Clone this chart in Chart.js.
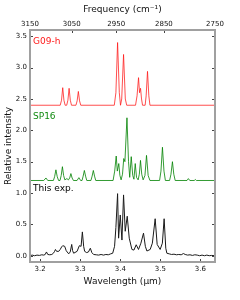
<!DOCTYPE html>
<html>
<head>
<meta charset="utf-8">
<script src="https://cdn.jsdelivr.net/npm/chart.js@4/dist/chart.umd.min.js"></script>
<style>
html,body{margin:0;padding:0;background:#fff;}
#wrap{width:240px;height:300px;position:relative;}
</style>
</head>
<body>
<div id="wrap"><canvas id="c" width="240" height="300"></canvas></div>
<script>
// ---- tick labels ----
const freqTicks = [3150, 3050, 2950, 2850, 2750];          // top axis (cm^-1)
const wlTicks = [3.2, 3.3, 3.4, 3.5, 3.6];                  // bottom axis (µm)
const yTicks = [0.0, 0.5, 1.0, 1.5, 2.0, 2.5, 3.0, 3.5];

// ---- G09-h (offset 2.4) ----
const g09X = [3.1746,3.2500,3.2533,3.2563,3.2593,3.2623,3.2662,3.2692,3.2722,3.2752,3.2782,
  3.2893,3.2923,3.2953,3.2983,3.3013,3.3850,3.3890,3.3932,3.3975,3.4005,3.4035,3.4081,3.4125,3.4160,
  3.4380,3.4418,3.4455,3.4480,3.4505,3.4530,3.4555,3.4620,3.4645,3.4679,3.4712,3.4740,3.6364];
const g09Y = [2.40,2.40,2.48,2.68,2.48,2.40,2.40,2.48,2.67,2.48,2.40,
  2.40,2.47,2.62,2.47,2.40,2.40,2.60,3.40,2.60,2.40,2.50,3.21,2.50,2.40,
  2.40,2.55,2.84,2.60,2.67,2.50,2.40,2.40,2.55,2.94,2.55,2.40,2.40];

// ---- SP16 (offset 1.2) ----
const sp16X = [3.1746,3.2090,3.2144,3.2190,3.2330,3.2360,3.2393,3.2426,3.2460,
  3.2495,3.2525,3.2555,3.2585,3.2615,3.2667,3.2705,3.2737,3.2767,3.2797,3.2830,
  3.2920,3.2966,3.3010,3.3045,3.3073,3.3103,3.3133,3.3163,
  3.3267,3.3297,3.3327,3.3357,3.3387,
  3.3820,3.3860,3.3898,3.3925,3.3962,3.3990,3.4020,3.4055,3.4086,3.4115,3.4166,3.4205,3.4235,
  3.4273,3.4310,3.4340,3.4373,3.4405,3.4445,3.4475,3.4504,3.4535,3.4570,3.4615,3.4654,3.4695,3.4740,
  3.4980,3.5015,3.5052,3.5090,3.5125,3.5230,3.5265,3.5301,3.5335,3.5370,
  3.5665,3.5699,3.5735,3.5845,3.5873,3.5900,3.6364];
const sp16Y = [1.20,1.20,1.24,1.20,1.20,1.26,1.37,1.26,1.20,
  1.20,1.28,1.42,1.28,1.21,1.23,1.21,1.24,1.31,1.24,1.20,
  1.20,1.245,1.20,1.20,1.27,1.36,1.27,1.20,
  1.20,1.27,1.36,1.27,1.20,
  1.20,1.35,1.59,1.35,1.47,1.28,1.21,1.30,1.55,1.50,2.20,1.50,1.25,
  1.58,1.28,1.22,1.47,1.25,1.21,1.30,1.52,1.30,1.21,1.28,1.60,1.28,1.20,
  1.20,1.35,1.73,1.35,1.20,1.20,1.30,1.50,1.30,1.20,
  1.20,1.23,1.20,1.20,1.215,1.20,1.20];

// ---- This exp. ----
const expX = [3.1746,3.1800,3.1860,3.1920,3.1980,3.2040,3.2090,3.2125,3.2157,3.2190,3.2240,3.2290,
  3.2330,3.2360,3.2381,3.2410,3.2463,3.2500,3.2535,3.2563,3.2612,3.2650,3.2712,3.2750,3.2787,3.2810,
  3.2836,3.2921,3.2978,3.3021,3.3053,3.3085,3.3110,3.3160,3.3205,3.3252,3.3290,3.3334,3.3400,3.3460,
  3.3520,3.3580,3.3640,3.3700,3.3760,3.3810,3.3857,3.3890,3.3932,3.3957,3.3999,3.4041,3.4081,3.4123,
  3.4173,3.4223,3.4290,3.4340,3.4397,3.4454,3.4514,3.4579,3.4625,3.4664,3.4746,3.4800,3.4870,3.4920,
  3.4995,3.5050,3.5094,3.5135,3.5162,3.5220,3.5280,3.5340,3.5400,3.5460,3.5520,3.5575,3.5620,3.5680,
  3.5740,3.5800,3.5860,3.5920,3.5980,3.6040,3.6100,3.6160,3.6220,3.6280,3.6364];
const expY = [0.00,0.01,0.00,0.01,0.005,0.015,0.01,0.02,0.06,0.02,0.015,0.02,
  0.04,0.07,0.10,0.07,0.07,0.10,0.14,0.16,0.15,0.08,0.03,0.06,0.18,0.08,
  0.04,0.07,0.16,0.15,0.38,0.15,0.07,0.05,0.06,0.12,0.05,0.02,0.015,0.01,
  0.02,0.01,0.02,0.015,0.03,0.04,0.15,0.45,0.99,0.28,0.65,0.25,0.97,0.39,
  0.63,0.28,0.10,0.09,0.175,0.10,0.20,0.36,0.15,0.075,0.10,0.20,0.59,0.18,
  0.10,0.20,0.59,0.12,0.04,0.03,0.02,0.025,0.015,0.02,0.015,0.035,0.02,0.01,
  0.015,0.005,0.015,0.01,0.00,0.01,0.00,0.01,0.00,0.005,0.00];

const seriesLabels = [
  {text: 'G09-h', y: 3.38, color: '#ff1a1a'},
  {text: 'SP16', y: 2.185, color: '#108a10'},
  {text: 'This exp.', y: 1.04, color: '#000000'}
];

const xMin = 1e4 / freqTicks[0];
const xMax = 1e4 / freqTicks[freqTicks.length - 1];
const pts = (xs, ys) => xs.map((x, i) => ({x: x, y: ys[i]}));
const FONT = 'DejaVu Sans';

const framePlugin = {
  id: 'frame',
  afterDatasetsDraw(chart) {
    const {ctx, chartArea: a, scales} = chart;
    ctx.save();
    // inward ticks
    ctx.strokeStyle = '#444';
    ctx.lineWidth = 1;
    const L = 3;
    ctx.beginPath();
    wlTicks.forEach(v => {
      const p = Math.round(scales.x.getPixelForValue(v)) + 0.5;
      ctx.moveTo(p, a.bottom); ctx.lineTo(p, a.bottom - L);
    });
    freqTicks.forEach(f => {
      const p = Math.round(scales.xTop.getPixelForValue(1e4 / f)) + 0.5;
      ctx.moveTo(p, a.top); ctx.lineTo(p, a.top + L);
    });
    yTicks.forEach(v => {
      const p = Math.round(scales.y.getPixelForValue(v)) + 0.5;
      ctx.moveTo(a.left, p); ctx.lineTo(a.left + L, p);
      ctx.moveTo(a.right, p); ctx.lineTo(a.right - L, p);
    });
    ctx.stroke();
    // frame
    ctx.strokeStyle = '#a0a0a0';
    ctx.lineWidth = 2;
    ctx.strokeRect(a.left, a.top, a.right - a.left, a.bottom - a.top);
    // series labels
    ctx.font = '9px "' + FONT + '"';
    ctx.textBaseline = 'alphabetic';
    ctx.textAlign = 'left';
    seriesLabels.forEach(l => {
      ctx.fillStyle = l.color;
      ctx.fillText(l.text, a.left + 3, scales.y.getPixelForValue(l.y));
    });
    ctx.restore();
  }
};

new Chart(document.getElementById('c'), {
  type: 'line',
  data: {
    datasets: [
      {data: pts(g09X, g09Y), borderColor: 'rgba(255,20,20,0.75)', borderWidth: 1},
      {data: pts(sp16X, sp16Y), borderColor: 'rgba(0,130,0,0.8)', borderWidth: 1},
      {data: pts(expX, expY), borderColor: '#1a1a1a', borderWidth: 1}
    ]
  },
  options: {
    responsive: false,
    animation: false,
    events: [],
    layout: {padding: {left: 0, right: 25, top: 0, bottom: 0}},
    elements: {point: {radius: 0}, line: {tension: 0}},
    plugins: {legend: {display: false}, tooltip: {enabled: false}},
    scales: {
      x: {
        type: 'linear', position: 'bottom', min: xMin, max: xMax,
        afterBuildTicks: s => { s.ticks = wlTicks.map(v => ({value: v})); },
        afterFit: s => { s.height = 38; },
        grid: {display: false, drawTicks: false},
        border: {display: false},
        ticks: {padding: 3, color: '#111', font: {family: FONT, size: 7}, maxRotation: 0,
                callback: v => v.toFixed(1)},
        title: {display: true, text: 'Wavelength (\u03bcm)', color: '#111',
                font: {family: FONT, size: 9}, padding: {top: 0, bottom: 13}}
      },
      xTop: {
        type: 'linear', position: 'top', min: xMin, max: xMax,
        afterBuildTicks: s => { s.ticks = freqTicks.map(f => ({value: 1e4 / f})); },
        afterFit: s => { s.height = 30; },
        grid: {display: false, drawTicks: false},
        border: {display: false},
        ticks: {padding: 2, color: '#111', font: {family: FONT, size: 7}, maxRotation: 0,
                autoSkip: false,
                callback: v => String(Math.round(1e4 / v))},
        title: {display: true, text: 'Frequency (cm\u207b\u00b9)', color: '#111',
                font: {family: FONT, size: 9}, padding: {top: 4, bottom: 0}}
      },
      y: {
        type: 'linear', position: 'left', min: -0.1, max: 3.6,
        afterBuildTicks: s => { s.ticks = yTicks.map(v => ({value: v})); },
        afterFit: s => { s.width = 30; },
        grid: {display: false, drawTicks: false},
        border: {display: false},
        ticks: {padding: 3, color: '#111', font: {family: FONT, size: 7},
                callback: v => v.toFixed(1)},
        title: {display: true, text: 'Relative intensity', color: '#111',
                font: {family: FONT, size: 9}, padding: {top: 3, bottom: 0}}
      }
    }
  },
  plugins: [framePlugin]
});
</script>
</body>
</html>
